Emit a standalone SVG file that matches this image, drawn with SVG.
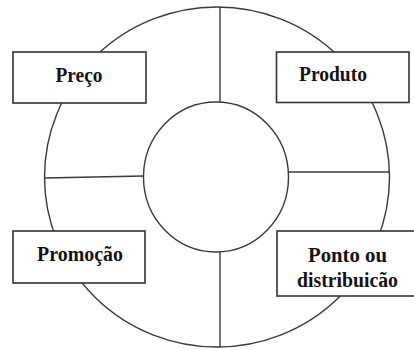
<svg xmlns="http://www.w3.org/2000/svg" width="414" height="350" viewBox="0 0 414 350">
<style>
.ring{fill:none;stroke:#3a3a3a;stroke-width:1.4}
.div{stroke:#3a3a3a;stroke-width:1.4;fill:none}
.box{fill:#fff;stroke:#333;stroke-width:1.6}
.lbl{font-family:"Liberation Serif","Times New Roman",serif;font-weight:bold;font-size:20.5px;fill:#141414;text-anchor:middle}
</style>
<rect width="414" height="350" fill="#fff"/>
<g id="wheel">
<ellipse class="ring" cx="217" cy="177" rx="172.5" ry="170"/>
<ellipse class="ring" cx="216" cy="177" rx="72.5" ry="75"/>
</g>
<g id="connectors">
<line class="div" x1="220" y1="7" x2="220" y2="102"/>
<line class="div" x1="220" y1="252" x2="220" y2="347"/>
<line class="div" x1="44.5" y1="178" x2="143.5" y2="176"/>
<line class="div" x1="288.5" y1="172" x2="389.5" y2="172"/>
</g>
<g id="preco">
<rect class="box" x="13" y="52" width="133" height="51"/>
<text class="lbl" x="79" y="82" textLength="47" lengthAdjust="spacingAndGlyphs">Preço</text>
</g>
<g id="produto">
<rect class="box" x="276.5" y="52" width="132.5" height="50.5"/>
<text class="lbl" x="333" y="81" textLength="68" lengthAdjust="spacingAndGlyphs">Produto</text>
</g>
<g id="promocao">
<rect class="box" x="13" y="231" width="132" height="52"/>
<text class="lbl" x="80" y="261" textLength="86" lengthAdjust="spacingAndGlyphs">Promoção</text>
</g>
<g id="ponto">
<rect class="box" x="277" y="231" width="140" height="65"/>
<text class="lbl" x="347.5" y="262" textLength="79" lengthAdjust="spacingAndGlyphs">Ponto ou</text>
<text class="lbl" x="347.5" y="287" textLength="101" lengthAdjust="spacingAndGlyphs">distribuicão</text>
</g>
</svg>
